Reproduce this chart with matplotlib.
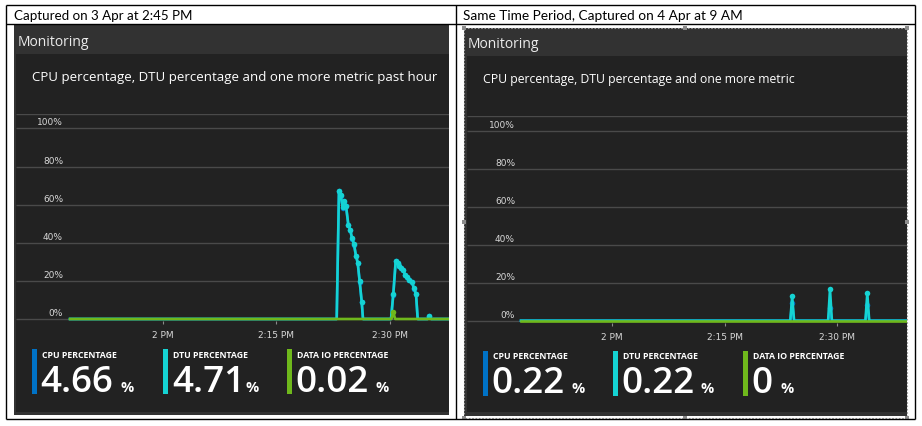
import matplotlib
matplotlib.use('Agg')
import matplotlib.pyplot as plt
from matplotlib.patches import Rectangle

# ---- data (minutes relative to 2 PM, values in %) ----
headers = ['Captured on 3 Apr at 2:45 PM', 'Same Time Period, Captured on 4 Apr at 9 AM']
chart_titles = ['CPU percentage, DTU percentage and one more metric past hour',
                'CPU percentage, DTU percentage and one more metric']
y_ticks = [0, 20, 40, 60, 80, 100]
y_tick_labels = ['0%', '20%', '40%', '60%', '80%', '100%']
x_ticks = [0, 15, 30]
x_tick_labels = ['2 PM', '2:15 PM', '2:30 PM']

# first capture (3 Apr)
dtu_left_t = [-12.3, 22.99, 23.29, 23.52, 23.78, 24.0, 24.22, 24.53, 24.79, 25.01, 25.28,
              25.54, 25.77, 26.03, 26.30, 26.47, 30.18, 30.48, 30.80, 31.06, 31.27, 31.54,
              31.80, 32.03, 32.29, 32.60, 32.92, 33.22, 33.49, 33.71, 35.0, 35.25, 35.5, 40.0]
dtu_left_v = [0, 0, 67.4, 65.1, 58.8, 61.7, 59.5, 49.5, 46.8, 42.5, 39.3,
              33.2, 29.6, 19.8, 9.1, 0, 0, 13.0, 30.5, 29.6, 27.9, 26.7,
              25.8, 23.2, 22.3, 20.5, 19.6, 16.1, 13.0, 0, 0, 1.5, 0, 0]
cpu_left_v = [0, 0, 67.0, 64.8, 58.5, 61.4, 59.2, 49.2, 46.5, 42.2, 39.0,
              33.0, 29.4, 19.6, 9.0, 0, 0, 12.8, 30.2, 29.4, 27.7, 26.5,
              25.6, 23.0, 22.1, 20.3, 19.4, 16.0, 12.9, 0, 0, 1.4, 0, 0]
io_left_t = [-12.3, 30.23, 30.48, 30.73, 40.0]
io_left_v = [0, 0, 3.5, 0, 0]

# second capture (4 Apr)
dtu_right_t = [-12.06, 23.75, 24.0, 24.25, 28.78, 29.03, 29.28, 33.74, 33.99, 34.24, 40.0]
dtu_right_v = [0, 0, 12.8, 0, 0, 16.5, 0, 0, 14.4, 0, 0]
cpu_right_v = [0, 0, 9.3, 0, 0, 6.8, 0, 0, 8.4, 0, 0]
io_right_t = [-12.06, 40.0]
io_right_v = [0, 0]

tile_names = ['CPU PERCENTAGE', 'DTU PERCENTAGE', 'DATA IO PERCENTAGE']
tiles_left = ['4.66', '4.71', '0.02']
tiles_right = ['0.22', '0.22', '0']

# ---- style ----
C_CPU = '#0072c6'
C_DTU = '#15d3d3'
C_IO = '#6fb81c'
C_HEAD = '#323232'
C_BODY = '#222222'
C_GRID = '#4a4a4a'
C_TICK = '#d8d8d8'
UI = ['Open Sans', 'DejaVu Sans']

W, H = 922, 426
fig = plt.figure(figsize=(W / 100, H / 100), dpi=100)
fig.patch.set_facecolor('white')

bg = fig.add_axes([0, 0, 1, 1])
bg.set_xlim(0, W)
bg.set_ylim(H, 0)
bg.axis('off')

# table lines
for xs, ys in [([6, 914.5], [5, 5]), ([6, 914.5], [24, 24]), ([6, 914.5], [419, 419]),
               ([6, 6], [5, 419]), ([455.5, 455.5], [5, 419]), ([914.5, 914.5], [5, 419])]:
    bg.plot(xs, ys, color='black', lw=1.0, solid_capstyle='butt')

bg.text(14, 20.5, headers[0], fontsize=9.6, family='Lato', color='black', va='baseline')
bg.text(463, 20.5, headers[1], fontsize=9.8, family='Lato', color='black', va='baseline')

# panels
panels = [dict(x0=14, x1=449, y0=25, hb=54, bx0=16, bb=411.5, y1=414.5, ts=9.55),
          dict(x0=464, x1=907, y0=28, hb=56, bx0=467, bb=411.5, y1=416, ts=8.85)]
for i, p in enumerate(panels):
    bg.add_patch(Rectangle((p['x0'], p['y0']), p['x1'] - p['x0'], p['y1'] - p['y0'],
                           facecolor=C_HEAD, edgecolor='none'))
    bg.add_patch(Rectangle((p['bx0'], p['hb']), p['x1'] - p['bx0'], p['bb'] - p['hb'],
                           facecolor=C_BODY, edgecolor='none'))
    bg.text(p['x0'] + 3.5, p['hb'] - 8, 'Monitoring', fontsize=10, family=UI,
            color='#ececec', va='baseline')
    bg.text(p['bx0'] + 16, p['hb'] + 27, chart_titles[i], fontsize=p['ts'], family=UI,
            color='white', va='baseline')

# selection border on the second panel
bg.add_patch(Rectangle((463.5, 27.5), 443.5, 390, facecolor='none', edgecolor='#9a9a9a',
                       lw=0.8, linestyle=(0, (1.5, 1.5))))
for hx, hy in [(463.5, 27.5), (685, 27.5), (907, 27.5), (463.5, 222), (907, 222),
               (463.5, 417.5), (685, 417.5), (907, 417.5)]:
    bg.add_patch(Rectangle((hx - 2, hy - 2), 4, 4, facecolor='#8c8c8c', edgecolor='none'))


def chart(px0, px1, py_top, py_bot, zero_px, px_per_pct, t_at, series, ylab_px):
    ax = fig.add_axes([px0 / W, 1 - py_bot / H, (px1 - px0) / W, (py_bot - py_top) / H])
    ax.set_facecolor('none')
    ymin = -(py_bot - zero_px) / px_per_pct
    ymax = (zero_px - py_top - 0.6) / px_per_pct
    ax.set_ylim(ymin, ymax)
    ax.set_xlim(t_at(px0), t_at(px1))
    for s in ax.spines.values():
        s.set_visible(False)
    for v in y_ticks + [ymax]:
        ax.axhline(v, color=C_GRID, lw=1.0, zorder=1, solid_capstyle='butt')
    ax.set_yticks([])
    xr = (ylab_px - px0) / (px1 - px0)
    for v, lab in zip(y_ticks, y_tick_labels):
        ax.text(xr, v + 3 / px_per_pct, lab, transform=ax.get_yaxis_transform(),
                ha='right', va='baseline', fontsize=6.5, color=C_TICK)
    ax.set_xticks(x_ticks)
    ax.set_xticklabels([])
    ax.tick_params(axis='x', direction='out', length=2.5, width=0.8, color='#8a8a8a')
    yb = -17 / (py_bot - py_top)
    for t, lab in zip(x_ticks, x_tick_labels):
        ax.text(t, yb, lab, transform=ax.get_xaxis_transform(), ha='center',
                va='baseline', fontsize=6.5, color=C_TICK)
    for t, v, c, z in series:
        ax.plot(t, v, color=c, lw=1.9, zorder=z, solid_joinstyle='round')
        pts = [(a, b) for a, b in zip(t, v) if b > 0]
        if pts:
            ax.scatter([a for a, b in pts], [b for a, b in pts], s=16, color=c,
                       zorder=z, linewidths=0)
    return ax


chart(16, 449, 114, 321, 319, 1.9, lambda x: (x - 163) / 113.33 * 15,
      [(dtu_left_t, cpu_left_v, C_CPU, 2), (dtu_left_t, dtu_left_v, C_DTU, 3),
       (io_left_t, io_left_v, C_IO, 4)], 63)
chart(467, 907, 116.3, 322.7, 320.7, 1.894, lambda x: (x - 611.7) / 112.8 * 15,
      [(dtu_right_t, cpu_right_v, C_CPU, 2), (dtu_right_t, dtu_right_v, C_DTU, 3),
       (io_right_t, io_right_v, C_IO, 4)], 515)

# summary tiles
tile_colors = [C_CPU, C_DTU, C_IO]
tile_layout = [
    dict(bars=[32, 163.3, 287.3], y0=349, y1=394, lab_y=357.7, num_y=391.7,
         pct_x=[120.5, 245.5, 375.5], vals=tiles_left),
    dict(bars=[483.3, 613.3, 743.3], y0=351, y1=396, lab_y=359.3, num_y=393.3,
         pct_x=[571, 700.7, 780.7], vals=tiles_right),
]
for L in tile_layout:
    for k in range(3):
        bx = L['bars'][k]
        bg.add_patch(Rectangle((bx, L['y0']), 4.7, L['y1'] - L['y0'],
                               facecolor=tile_colors[k], edgecolor='none'))
        bg.text(bx + 9.5, L['lab_y'], tile_names[k], fontsize=6.3, family=UI,
                weight='bold', color='white', va='baseline')
        bg.text(bx + 8.5, L['num_y'], L['vals'][k], fontsize=26.5, family=UI,
                weight='semibold', color='white', va='baseline')
        bg.text(L['pct_x'][k], L['num_y'], '%', fontsize=10.5, family=UI,
                weight='bold', color='white', va='baseline')

fig.savefig('out.png', dpi=100, facecolor='white')
